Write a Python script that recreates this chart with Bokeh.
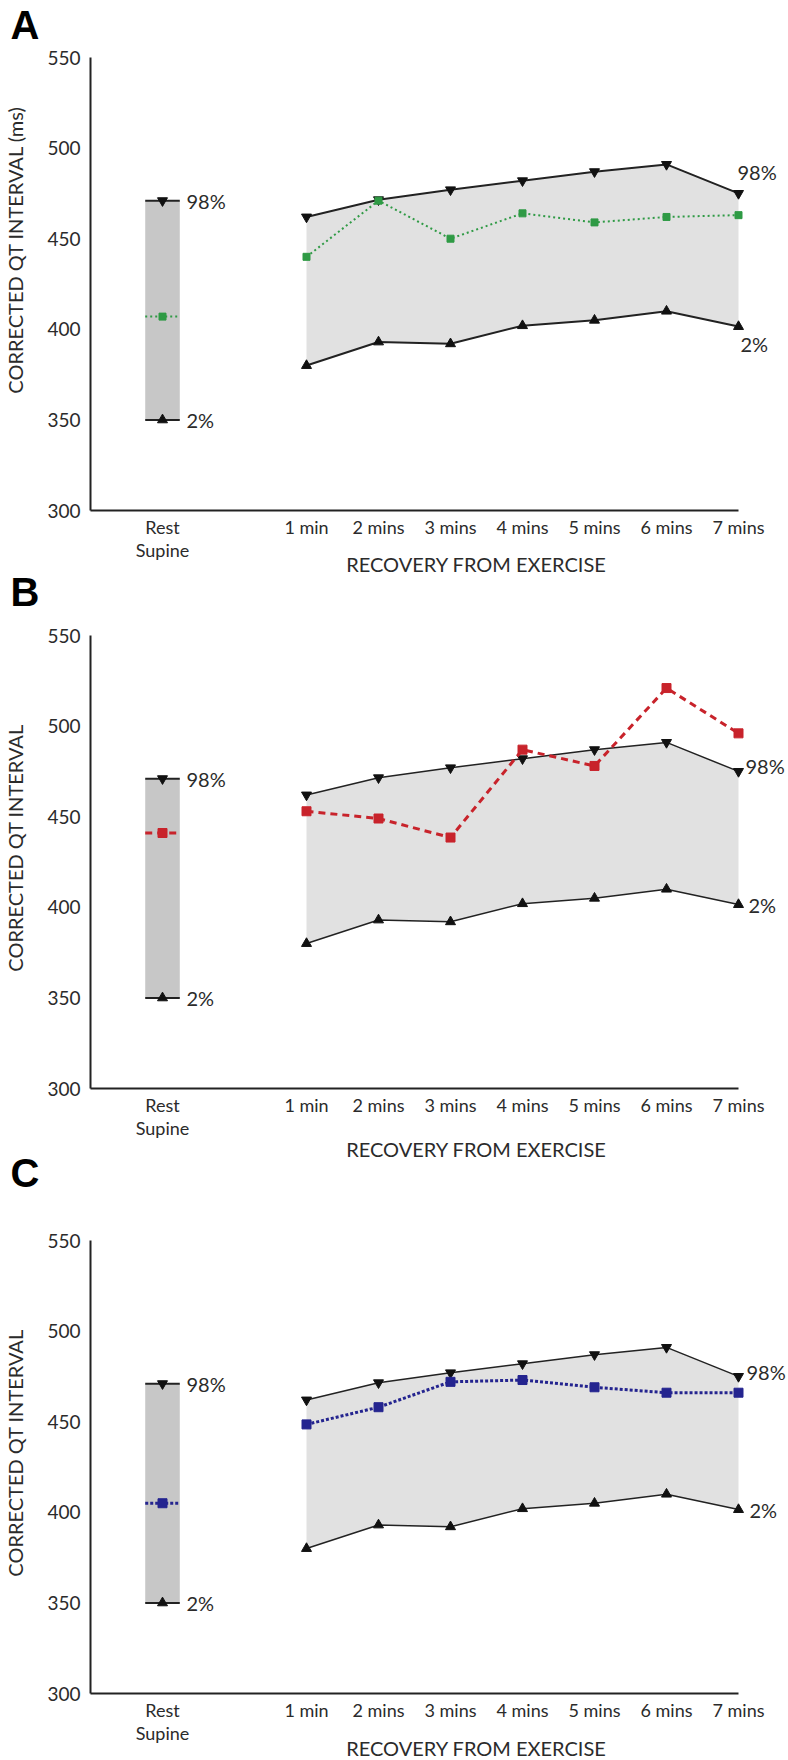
from math import pi
from bokeh.plotting import figure
from bokeh.models import Range1d, FixedTicker, Label
from bokeh.layouts import column
from bokeh.embed import file_html
from bokeh.resources import INLINE

# ---------------- data ----------------
rest_label = "Rest\nSupine"
recovery_labels = ["1 min", "2 mins", "3 mins", "4 mins", "5 mins", "6 mins", "7 mins"]
rest_pos = -1
recovery_pos = [1, 2, 3, 4, 5, 6, 7]

rest_p98 = 471
rest_p2 = 350
p98 = [462, 471.5, 477, 482, 487, 491, 475]
p2 = [380, 393, 392, 402, 405, 410, 401.5]

mean_a_rest = 407
mean_a = [440, 471, 450, 464, 459, 462, 463]
mean_b_rest = 441
mean_b = [453, 449, 438.5, 487, 478, 521, 496]
mean_c_rest = 405
mean_c = [448.5, 458, 472, 473, 469, 466, 466]

y_ticks = [300, 350, 400, 450, 500, 550]
y_title_a = "CORRECTED QT INTERVAL (ms)"
y_title_bc = "CORRECTED QT INTERVAL"
x_title = "RECOVERY FROM EXERCISE"
panel_letters = ["A", "B", "C"]

# ---------------- layout constants ----------------
FONT = "Lato"
TXT = "#2b2b2b"
BAR_W = 0.48
W = 788
X0, X1 = -2, 7          # axis extent (data)
Y0, Y1 = 300, 550
AX_LEFT_PX = 90          # pixel position of x=-2
AX_RIGHT_PX = 738        # pixel position of x=7
FRAME_H = 453            # pixel height of 300..550
PXX = (AX_RIGHT_PX - AX_LEFT_PX) / (X1 - X0)
PXY = FRAME_H / (Y1 - Y0)


def letter_label(text, y, yo):
    return Label(x=X0, y=y, x_offset=-80, y_offset=yo, text=text,
                 text_font="Liberation Sans", text_font_style="bold",
                 text_font_size="40px", text_color="#000000", text_align="left",
                 text_baseline="middle")


def make_panel(y_title, rest_mean, means, color, dash, mwidth, msize,
               height, top, band_lw, lab98, lab2, xlab_off,
               own_letter=None, own_off=0, next_letter=None, next_off=0):
    bottom = height - top - FRAME_H
    xr = Range1d(X0 - AX_LEFT_PX / PXX, X1 + (W - AX_RIGHT_PX) / PXX)
    yr = Range1d(Y0 - bottom / PXY, Y1 + top / PXY)
    p = figure(width=W, height=height, x_range=xr, y_range=yr,
               output_backend="svg", toolbar_location=None,
               min_border=0, min_border_left=0, min_border_right=0,
               min_border_top=0, min_border_bottom=0)
    p.outline_line_color = None
    p.xgrid.visible = False
    p.ygrid.visible = False
    p.background_fill_color = "white"

    # axes, fixed in place inside the frame
    p.xaxis.fixed_location = Y0
    p.yaxis.fixed_location = X0
    p.xaxis.bounds = (X0, X1)
    p.yaxis.bounds = (Y0, Y1)
    for ax in (p.xaxis, p.yaxis):
        ax.axis_line_color = "#222222"
        ax.axis_line_width = 2
        ax.major_tick_line_color = None
        ax.minor_tick_line_color = None
        ax.major_tick_out = 0
        ax.major_tick_in = 0
        ax.minor_tick_out = 0
        ax.minor_tick_in = 0
        ax.major_label_text_font = FONT
        ax.major_label_text_color = TXT
    p.yaxis.major_label_text_font_size = "19px"
    p.xaxis.major_label_text_font_size = "18px"
    p.xaxis.major_label_text_line_height = 1.05
    p.yaxis.ticker = FixedTicker(ticks=y_ticks)
    p.yaxis.major_label_standoff = 10
    p.xaxis.ticker = FixedTicker(ticks=[rest_pos] + recovery_pos)
    overrides = {rest_pos: rest_label}
    for xp, lab in zip(recovery_pos, recovery_labels):
        overrides[xp] = lab
    p.xaxis.major_label_overrides = overrides
    p.xaxis.major_label_standoff = 5

    # reference band (2%-98%)
    p.varea(x=recovery_pos, y1=p2, y2=p98, fill_color="#e1e1e1")
    # rest bar
    p.vbar(x=[rest_pos], bottom=[rest_p2], top=[rest_p98], width=BAR_W,
           fill_color="#c7c7c7", line_color=None)
    p.segment(x0=[rest_pos - BAR_W / 2] * 2, x1=[rest_pos + BAR_W / 2] * 2,
              y0=[rest_p98, rest_p2], y1=[rest_p98, rest_p2], line_color="#222222", line_width=2)
    p.scatter([rest_pos], [rest_p98], marker="inverted_triangle", size=10, color="#111111")
    p.scatter([rest_pos], [rest_p2], marker="triangle", size=10, color="#111111")

    # percentile lines
    p.line(recovery_pos, p98, line_color="#222222", line_width=band_lw)
    p.line(recovery_pos, p2, line_color="#222222", line_width=band_lw)
    p.scatter(recovery_pos, p98, marker="inverted_triangle", size=10, color="#111111")
    p.scatter(recovery_pos, p2, marker="triangle", size=10, color="#111111")

    # mean series
    p.segment(x0=[rest_pos - BAR_W / 2], x1=[rest_pos + BAR_W / 2], y0=[rest_mean], y1=[rest_mean],
              line_color=color, line_width=mwidth, line_dash=dash)
    p.scatter([rest_pos], [rest_mean], marker="square", size=msize, color=color)
    p.line(recovery_pos, means, line_color=color, line_width=mwidth, line_dash=dash)
    p.scatter(recovery_pos, means, marker="square", size=msize, color=color)

    # percentile labels
    def lab(text, x, y, xo, yo):
        p.add_layout(Label(x=x, y=y, x_offset=xo, y_offset=yo, text=text, text_font=FONT,
                           text_font_size="20px", text_color=TXT, text_baseline="middle",
                           text_align="left"))
    lab("98%", rest_pos, rest_p98, 24, 0)
    lab("2%", rest_pos, rest_p2, 24, 0)
    lab("98%", recovery_pos[-1], p98[-1], lab98[0], lab98[1])
    lab("2%", recovery_pos[-1], p2[-1], lab2[0], lab2[1])

    # titles
    p.add_layout(Label(x=X0, y=364.5, x_offset=-76, angle=pi / 2, text=y_title, text_font=FONT,
                       text_font_size="20px", text_color=TXT, text_align="left",
                       text_baseline="middle"))
    p.add_layout(Label(x=3.36, y=Y0, y_offset=-xlab_off, text=x_title, text_font=FONT,
                       text_font_size="20px", text_color=TXT, text_align="center",
                       text_baseline="middle"))
    # panel letters (the next panel's letter sits in the gap below this one)
    if own_letter:
        p.add_layout(letter_label(own_letter, Y1, own_off))
    if next_letter:
        p.add_layout(letter_label(next_letter, Y0, -next_off))
    return p


pa = make_panel(y_title_a, mean_a_rest, mean_a, "#2f9a45", "2 3", 2, 7,
                620, 57, 2, (-1, 21), (2, -17), 53,
                own_letter=panel_letters[0], own_off=33,
                next_letter=panel_letters[1], next_off=81)
pb = make_panel(y_title_bc, mean_b_rest, mean_b, "#c8232b", "7 5", 3, 9,
                580, 15, 1.5, (7, 5), (10, 0), 60,
                next_letter=panel_letters[2], next_off=84)
pc = make_panel(y_title_bc, mean_c_rest, mean_c, "#24248f", "3 2", 3, 9,
                560, 40, 1.5, (8, 4), (11, 0), 54)

layout = column(pa, pb, pc, spacing=0)
open("out.html", "w").write(file_html(layout, INLINE))
